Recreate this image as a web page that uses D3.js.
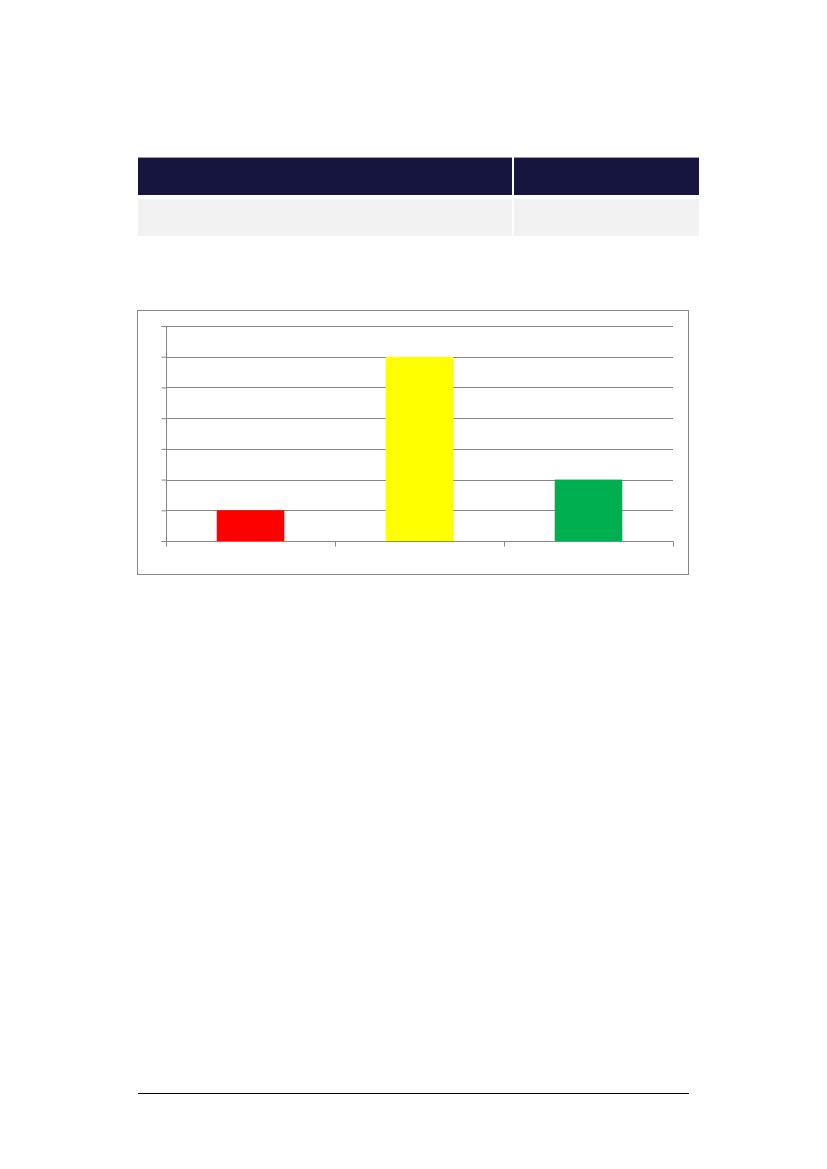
<!DOCTYPE html>
<html>
<head>
<meta charset="utf-8">
<script src="https://cdn.jsdelivr.net/npm/d3@7"></script>
<style>
html,body{margin:0;padding:0;background:#fff;}
svg{display:block;}
</style>
</head>
<body>
<svg id="page" width="827" height="1169"></svg>
<script>
// Data
const categories = ["A", "B", "C"];
const values = [1, 6, 2];
const barColors = ["#ff0000", "#ffff00", "#00b050"];
const yTicks = [0, 1, 2, 3, 4, 5, 6, 7];

const svg = d3.select("#page");

// Table (header + one row, no text)
const tbl = svg.append("g");
tbl.append("rect").attr("x", 138).attr("y", 157).attr("width", 374).attr("height", 38).attr("fill", "#15153f");
tbl.append("rect").attr("x", 514).attr("y", 157).attr("width", 185).attr("height", 38).attr("fill", "#15153f");
tbl.append("line").attr("x1", 138).attr("x2", 512).attr("y1", 157.5).attr("y2", 157.5).attr("stroke", "#9a9ab0").attr("stroke-width", 1);
tbl.append("line").attr("x1", 514).attr("x2", 699).attr("y1", 157.5).attr("y2", 157.5).attr("stroke", "#9a9ab0").attr("stroke-width", 1);
tbl.append("rect").attr("x", 138).attr("y", 199).attr("width", 374).attr("height", 37).attr("fill", "#f2f2f2");
tbl.append("rect").attr("x", 514).attr("y", 199).attr("width", 185).attr("height", 37).attr("fill", "#f2f2f2");

// Chart frame
svg.append("rect").attr("x", 137.5).attr("y", 310.5).attr("width", 551).attr("height", 264)
  .attr("fill", "#fff").attr("stroke", "#868686").attr("stroke-width", 1);

const pL = 166, pR = 673, pT = 326, pB = 541;
const x = d3.scaleBand().domain(categories).range([pL, pR]).paddingInner(0.6).paddingOuter(0.3);
const xOuter = d3.scaleBand().domain(categories).range([pL, pR]);
const y = d3.scaleLinear().domain([0, 7]).range([pB, pT]);

const g = svg.append("g");

// gridlines
g.selectAll("line.grid").data(yTicks.slice(1)).join("line")
  .attr("class", "grid")
  .attr("x1", pL).attr("x2", pR)
  .attr("y1", d => Math.round(y(d)) + 0.5).attr("y2", d => Math.round(y(d)) + 0.5)
  .attr("stroke", "#868686").attr("stroke-width", 1);

// bars
g.selectAll("rect.bar").data(values).join("rect")
  .attr("class", "bar")
  .attr("x", (d, i) => x(categories[i]))
  .attr("width", x.bandwidth())
  .attr("y", d => y(d))
  .attr("height", d => y(0) - y(d))
  .attr("fill", (d, i) => barColors[i]);

// y axis
const yAxis = d3.axisLeft(y).tickValues(yTicks).tickSize(5).tickFormat("");
const ya = svg.append("g").attr("transform", `translate(${pL + 0.5},0)`).call(yAxis);
ya.select(".domain").attr("stroke", "#868686").attr("d", `M-5,${pT + 0.5}H0V${pB + 4}`);
ya.selectAll(".tick line").attr("stroke", "#868686");

// x axis
const xTickVals = categories.map(c => xOuter(c)).concat([pR]);
const xLin = d3.scaleLinear().domain([pL, pR]).range([pL, pR]);
const xAxis = d3.axisBottom(xLin).tickValues(xTickVals).tickSize(5).tickFormat("");
const xa = svg.append("g").attr("transform", `translate(0,${pB + 0.5})`).call(xAxis);
xa.select(".domain").attr("stroke", "#868686").attr("d", `M${pL},0H${pR}`);
xa.selectAll(".tick line").attr("stroke", "#868686");

// footer rule
svg.append("line").attr("x1", 138).attr("x2", 689).attr("y1", 1093.5).attr("y2", 1093.5)
  .attr("stroke", "#000").attr("stroke-width", 1);
</script>
</body>
</html>
